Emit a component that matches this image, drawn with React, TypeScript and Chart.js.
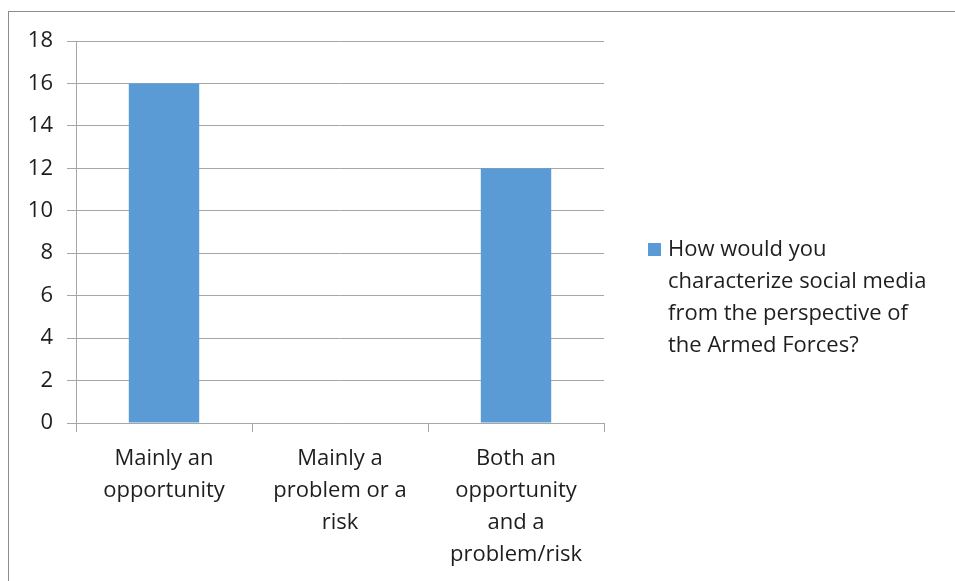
import React, { useEffect, useRef } from "react";
import { Chart, registerables } from "chart.js";

Chart.register(...registerables);

const categories: string[][] = [
  ["Mainly an", "opportunity"],
  ["Mainly a", "problem or a", "risk"],
  ["Both an", "opportunity", "and a", "problem/risk"],
];
const seriesValues: number[] = [16, 0, 12];
const seriesLabelLines: string[] = [
  "How would you",
  "characterize social media",
  "from the perspective of",
  "the Armed Forces?",
];
const yTicks = { min: 0, max: 18, step: 2 };

const FONT = "'Open Sans', Lato, sans-serif";
const BAR = "#5B9BD5";
const TEXT = "#1E1E1E";
const GRID = "#A6A6A6";
const FS = 22;

const legendPlugin = {
  id: "sideLegend",
  afterDraw(chart: any) {
    const ctx = chart.ctx;
    ctx.save();
    const x0 = 648;
    const y0 = 250;
    const lh = 32;
    ctx.fillStyle = BAR;
    ctx.fillRect(x0, y0 - 7, 13, 13);
    ctx.fillStyle = TEXT;
    ctx.font = `${FS}px ${FONT}`;
    ctx.textBaseline = "middle";
    ctx.textAlign = "left";
    seriesLabelLines.forEach((line, i) => {
      ctx.fillText(line, x0 + 20, y0 + i * lh);
    });
    ctx.restore();
  },
};

export default function App() {
  const ref = useRef<HTMLCanvasElement | null>(null);
  useEffect(() => {
    if (!ref.current) return;
    const chart = new Chart(ref.current, {
      type: "bar",
      data: {
        labels: categories,
        datasets: [
          {
            label: seriesLabelLines.join(" "),
            data: seriesValues,
            backgroundColor: BAR,
            borderWidth: 0,
            categoryPercentage: 1,
            barPercentage: 0.4,
          },
        ],
      },
      options: {
        animation: false,
        responsive: false,
        maintainAspectRatio: false,
        layout: { padding: { left: 0, right: 351, top: 41, bottom: 0 } },
        plugins: { legend: { display: false }, tooltip: { enabled: false } },
        scales: {
          x: {
            afterFit: (s: any) => {
              s.height = 158;
            },
            grid: {
              offset: true,
              drawOnChartArea: false,
              drawTicks: true,
              tickLength: 9,
              color: GRID,
            },
            border: { display: true, color: GRID },
            ticks: {
              color: TEXT,
              font: { family: FONT, size: FS, lineHeight: 32 / FS },
              padding: 11,
              maxRotation: 0,
              autoSkip: false,
            },
          },
          y: {
            min: yTicks.min,
            max: yTicks.max,
            afterFit: (s: any) => {
              s.width = 76;
            },
            grid: { color: GRID, tickLength: 9, drawTicks: true },
            border: { display: true, color: GRID },
            ticks: {
              stepSize: yTicks.step,
              color: TEXT,
              font: { family: FONT, size: FS },
              padding: 14,
            },
          },
        },
      },
      plugins: [legendPlugin],
    });
    return () => chart.destroy();
  }, []);

  return (
    <div
      style={{
        position: "fixed",
        left: 0,
        top: 0,
        width: 955,
        height: 581,
        overflow: "hidden",
        background: "#fff",
      }}
    >
      <div
        style={{
          position: "absolute",
          left: 8,
          top: 11,
          width: 1000,
          height: 700,
          border: "1px solid #8C8C8C",
        }}
      />
      <canvas
        ref={ref}
        width={955}
        height={581}
        style={{ position: "absolute", left: 0, top: 0, width: 955, height: 581 }}
      />
    </div>
  );
}
